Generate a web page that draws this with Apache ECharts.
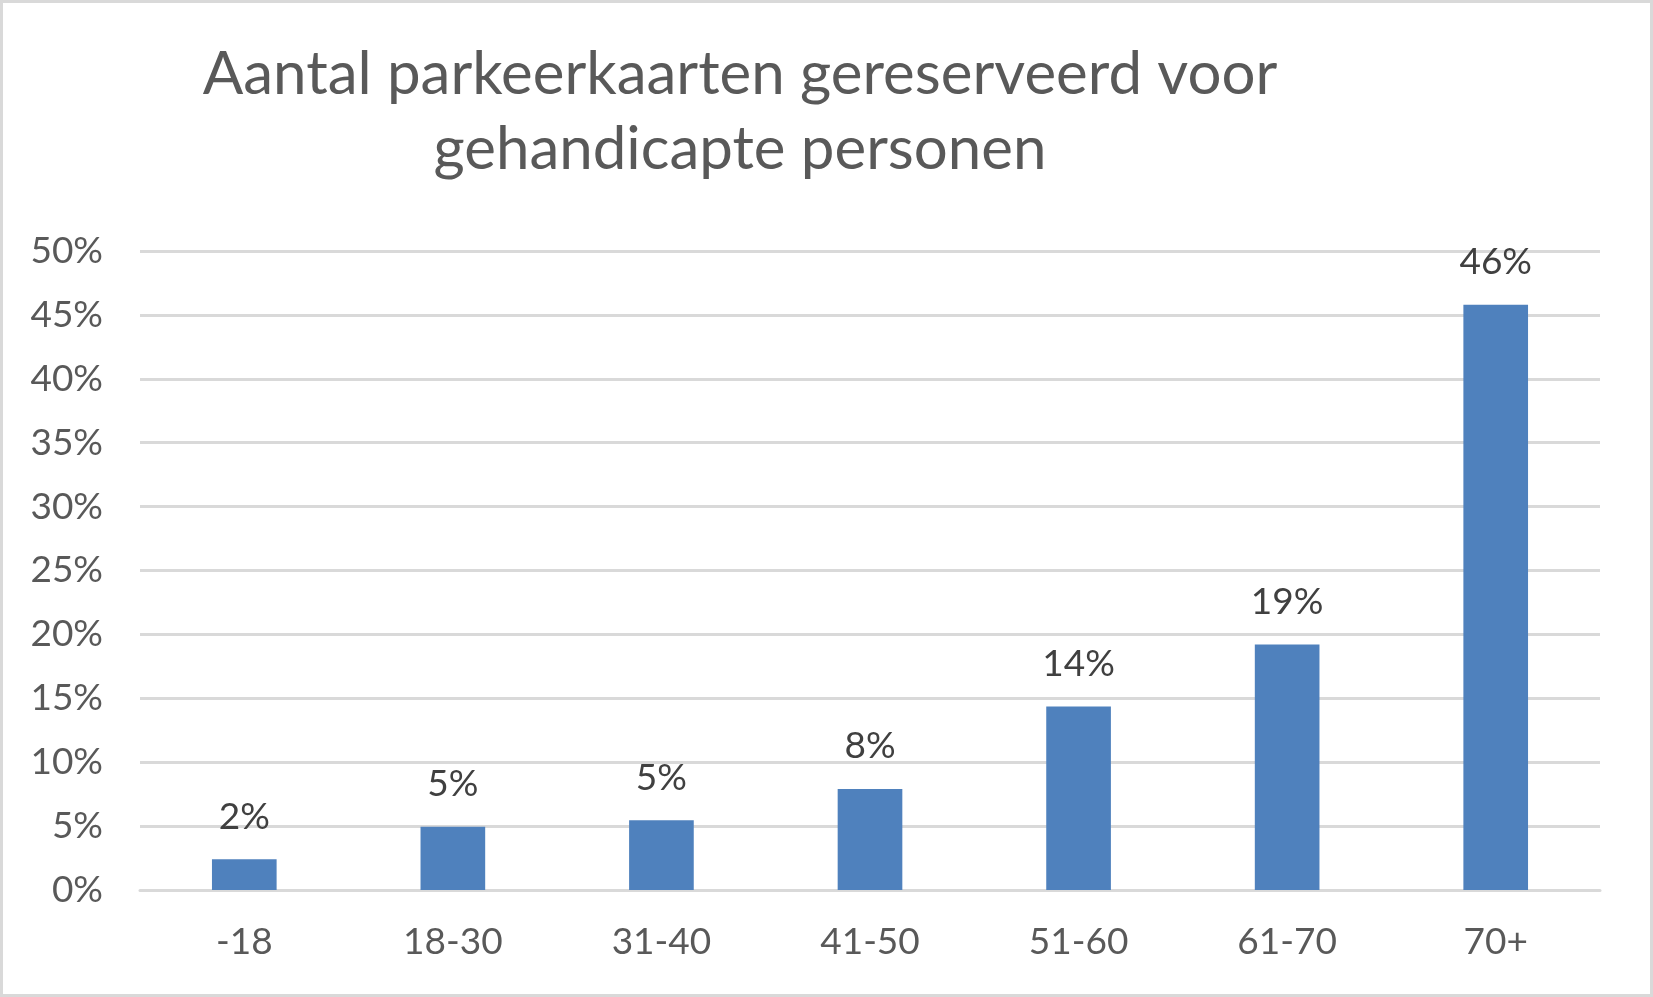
<!DOCTYPE html>
<html>
<head>
<meta charset="utf-8">
<script src="https://cdn.jsdelivr.net/npm/echarts@6/dist/echarts.min.js"></script>
<style>
  html, body { margin: 0; padding: 0; background: #fff; }
  #chart {
    width: 1653px;
    height: 997px;
    box-sizing: border-box;
    border: 3px solid #d9d9d9;
  }
</style>
</head>
<body>
<div id="chart"></div>
<script>
// leeftijdscategorieen
const categories = ["-18", "18-30", "31-40", "41-50", "51-60", "61-70", "70+"];
// aandeel parkeerkaarten (%)
const shares = [2.4, 4.95, 5.45, 7.9, 14.35, 19.2, 45.8];
// tick labels van de y-as
const yTicks = [0, 5, 10, 15, 20, 25, 30, 35, 40, 45, 50];

const titleText = "Aantal parkeerkaarten gereserveerd voor\ngehandicapte personen";
const fontFamily = "Lato, 'Open Sans', sans-serif";

const chart = echarts.init(document.getElementById("chart"));

chart.setOption({
  animation: false,
  title: {
    text: titleText,
    left: 732,
    top: 29,
    textAlign: "center",
    textStyle: {
      fontFamily: fontFamily,
      fontSize: 60,
      fontWeight: "normal",
      color: "#595959",
      lineHeight: 75
    }
  },
  grid: {
    left: 137,
    right: 50,
    top: 248,
    bottom: 104
  },
  xAxis: {
    type: "category",
    data: categories,
    axisTick: { show: false },
    axisLine: {
      lineStyle: { color: "#d9d9d9", width: 3 }
    },
    axisLabel: {
      margin: 34,
      fontFamily: fontFamily,
      fontSize: 37,
      color: "#595959"
    }
  },
  yAxis: {
    type: "value",
    min: yTicks[0],
    max: yTicks[yTicks.length - 1],
    interval: 5,
    axisLine: { show: false },
    axisTick: { show: false },
    splitLine: {
      lineStyle: { color: "#d9d9d9", width: 3 }
    },
    axisLabel: {
      margin: 37,
      fontFamily: fontFamily,
      fontSize: 37,
      color: "#595959",
      formatter: function (v) {
        return v + "%";
      }
    }
  },
  series: [{
    type: "bar",
    data: shares,
    barWidth: "31%",
    itemStyle: { color: "#4f81bd" },
    label: {
      show: true,
      position: "top",
      distance: 24,
      fontFamily: fontFamily,
      fontSize: 37,
      color: "#404040",
      formatter: function (p) {
        return Math.round(p.value) + "%";
      }
    }
  }]
});
</script>
</body>
</html>
